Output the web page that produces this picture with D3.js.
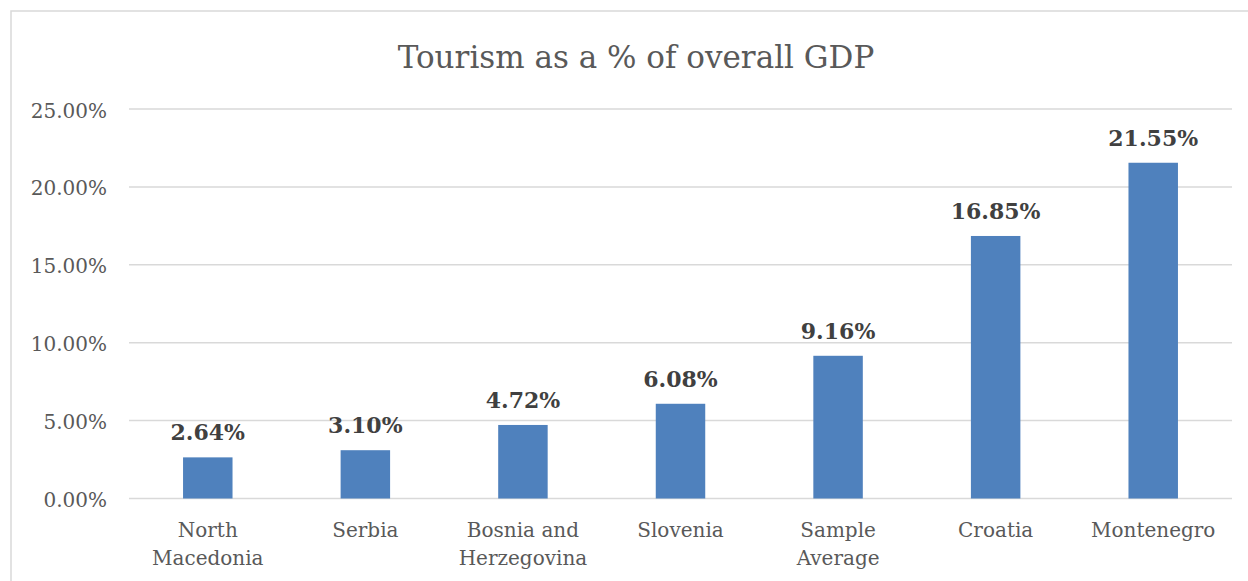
<!DOCTYPE html>
<html>
<head>
<meta charset="utf-8">
<script src="https://cdn.jsdelivr.net/npm/d3@7"></script>
<style>
  body { margin: 0; background: #fff; }
  svg { display: block; }
</style>
</head>
<body>
<div id="chart"></div>
<script>
// chart data
const categories = [["North", "Macedonia"], ["Serbia"], ["Bosnia and", "Herzegovina"], ["Slovenia"], ["Sample", "Average"], ["Croatia"], ["Montenegro"]];
const values = [2.64, 3.10, 4.72, 6.08, 9.16, 16.85, 21.55];
const yTicks = [0, 5, 10, 15, 20, 25];
const chartTitle = "Tourism as a % of overall GDP";

const width = 1248, height = 581;
const margin = { top: 109, right: 16, bottom: 82, left: 129 };
const innerW = width - margin.left - margin.right;
const innerH = 498.5 - margin.top;
const font = "'DejaVu Serif', serif";

const svg = d3.select('#chart').append('svg')
    .attr('width', width)
    .attr('height', height);

// outer chart border (runs off the right and bottom edge)
svg.append('rect')
    .attr('x', 11).attr('y', 11)
    .attr('width', width + 20).attr('height', height + 20)
    .attr('fill', 'none')
    .attr('stroke', '#d9d9d9')
    .attr('stroke-width', 1.5);

svg.append('text')
    .attr('x', 636).attr('y', 68)
    .attr('text-anchor', 'middle')
    .style('font-family', font)
    .style('font-size', '31px')
    .attr('fill', '#595959')
    .text(chartTitle);

const chart = svg.append('g')
    .attr('transform', `translate(${margin.left},${margin.top})`);

const idx = values.map((d, i) => i);
const x = d3.scaleBand()
    .domain(idx)
    .range([0, innerW])
    .paddingInner(0.686)
    .paddingOuter(0.343);

const y = d3.scaleLinear()
    .domain([0, 25])
    .range([innerH, 0]);

// gridlines
chart.selectAll('.grid')
    .data(yTicks)
    .enter().append('line')
    .attr('class', 'grid')
    .attr('x1', 0).attr('x2', innerW)
    .attr('y1', d => y(d)).attr('y2', d => y(d))
    .attr('stroke', '#d9d9d9')
    .attr('stroke-width', 1.5);

// y axis labels
const yAxis = chart.append('g')
    .call(d3.axisLeft(y).tickValues(yTicks).tickSize(0).tickPadding(22)
        .tickFormat(d => d.toFixed(2) + '%'));
yAxis.select('.domain').remove();
yAxis.selectAll('text')
    .style('font-family', font)
    .style('font-size', '20px')
    .attr('fill', '#595959')
    .attr('dy', '0.4em');

// bars
chart.selectAll('.bar')
    .data(values)
    .enter().append('rect')
    .attr('class', 'bar')
    .attr('x', (d, i) => x(i))
    .attr('width', x.bandwidth())
    .attr('y', d => y(d))
    .attr('height', d => innerH - y(d))
    .attr('fill', '#4f81bd');

// data labels
chart.selectAll('.label')
    .data(values)
    .enter().append('text')
    .attr('class', 'label')
    .attr('x', (d, i) => x(i) + x.bandwidth() / 2)
    .attr('y', d => y(d) - 17)
    .attr('text-anchor', 'middle')
    .style('font-family', font)
    .style('font-size', '22px')
    .style('font-weight', 'bold')
    .attr('fill', '#404040')
    .text(d => d.toFixed(2) + '%');

// category labels
const cat = chart.selectAll('.cat')
    .data(categories)
    .enter().append('text')
    .attr('class', 'cat')
    .attr('x', (d, i) => x(i) + x.bandwidth() / 2)
    .attr('y', innerH + 38)
    .attr('text-anchor', 'middle')
    .style('font-family', font)
    .style('font-size', '20px')
    .attr('fill', '#595959');

cat.selectAll('tspan')
    .data(d => d)
    .enter().append('tspan')
    .attr('x', function() { return d3.select(this.parentNode).attr('x'); })
    .attr('dy', (d, i) => i === 0 ? 0 : 28)
    .text(d => d);
</script>
</body>
</html>
